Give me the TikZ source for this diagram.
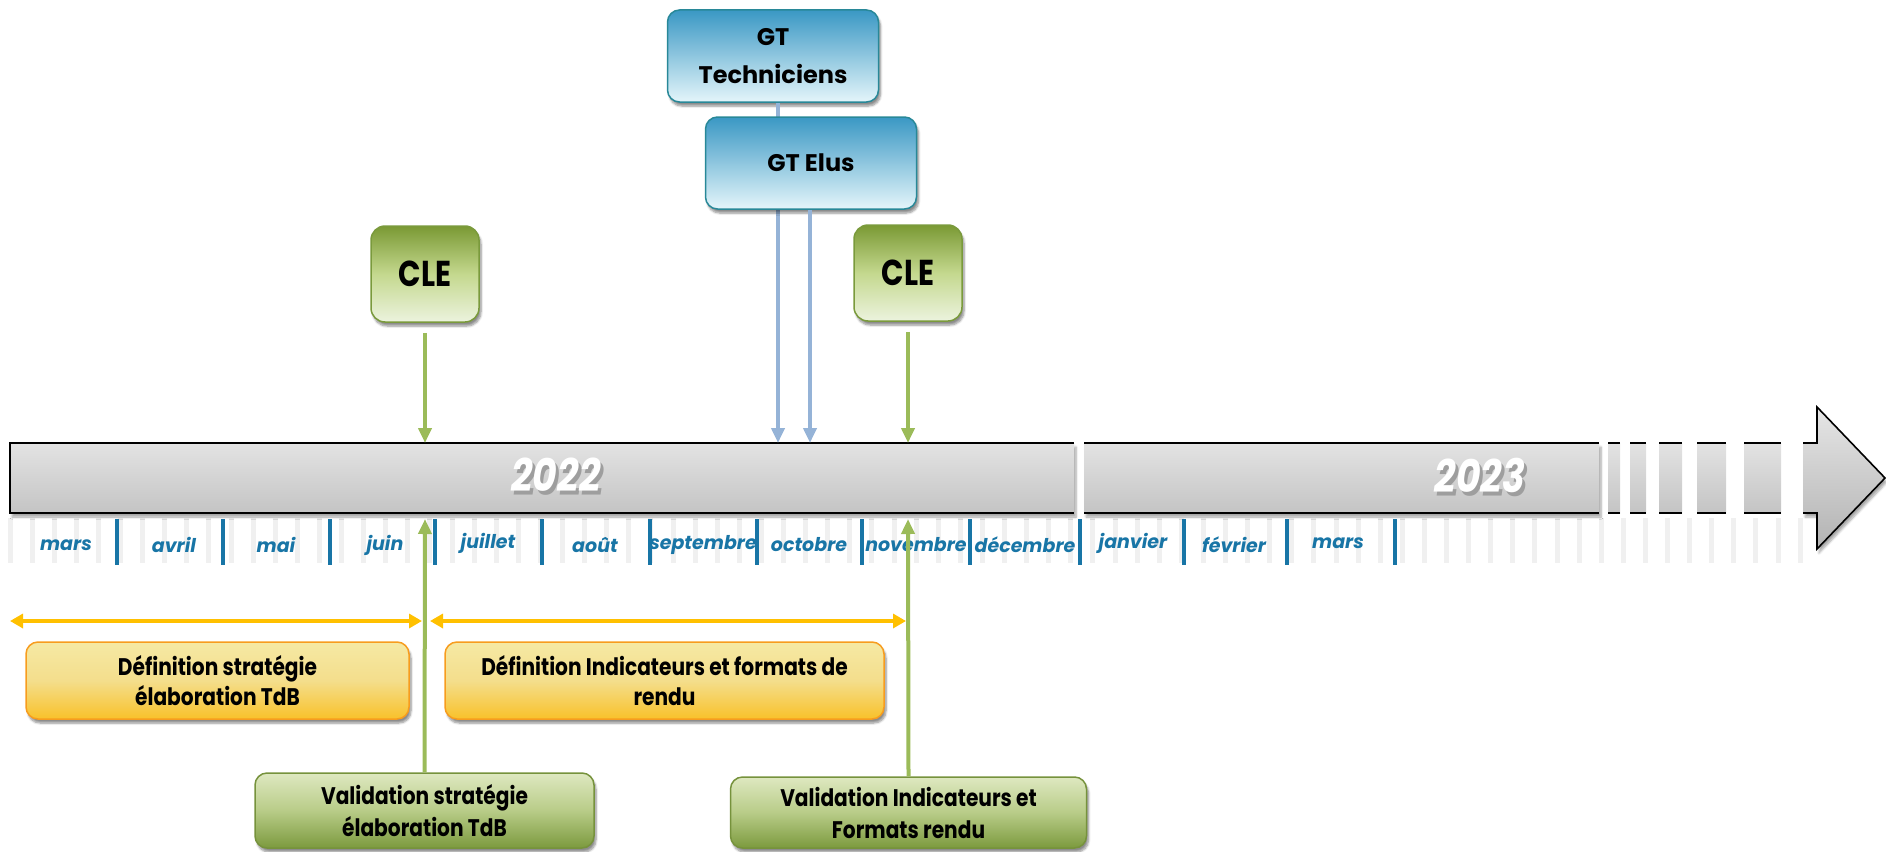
\documentclass[tikz,border=0pt]{standalone}
\usepackage{fontspec}
\setmainfont{Poppins}
\newfontfamily\condfont{Poppins}[FakeStretch=0.82]
\newfontfamily\boxfont{Poppins}[FakeStretch=0.84]
\usetikzlibrary{shadows.blur,arrows.meta}

\definecolor{monthblue}{RGB}{24,117,166}
\definecolor{stripegray}{RGB}{240,240,240}
\definecolor{gtTop}{RGB}{58,152,196}
\definecolor{gtBot}{RGB}{228,245,250}
\definecolor{gtLine}{RGB}{40,136,152}
\definecolor{cleTop}{RGB}{122,153,52}
\definecolor{cleMid}{RGB}{196,216,142}
\definecolor{cleBot}{RGB}{236,243,222}
\definecolor{cleLine}{RGB}{122,154,60}
\definecolor{defTop}{RGB}{245,233,164}
\definecolor{defMid}{RGB}{244,222,140}
\definecolor{defBot}{RGB}{249,193,42}
\definecolor{defLine}{RGB}{247,156,30}
\definecolor{valTop}{RGB}{222,232,192}
\definecolor{valMid}{RGB}{184,204,136}
\definecolor{valBot}{RGB}{124,154,62}
\definecolor{valLine}{RGB}{118,146,60}
\definecolor{conGreen}{RGB}{155,187,89}
\definecolor{conBlue}{RGB}{149,179,215}
\definecolor{conOrange}{RGB}{255,192,0}
\definecolor{barTop}{RGB}{227,227,227}
\definecolor{barBot}{RGB}{196,196,196}
\definecolor{yearShadow}{RGB}{158,158,158}

% year number with a soft offset shadow behind it
\newcommand{\shadowedyear}[1]{\rlap{\kern3pt\raisebox{-4pt}{\textcolor{yearShadow}{#1}}}#1}

\tikzset{
  boxshadow/.style={blur shadow={shadow xshift=2pt,shadow yshift=-4pt,shadow blur steps=6,shadow opacity=45}},
  basebox/.style={rounded corners=12pt,draw,line width=1.5pt,inner sep=0pt,align=center,boxshadow},
  gtbox/.style={basebox,top color=gtTop,bottom color=gtBot,draw=gtLine,
    font=\bfseries\fontsize{24}{38}\selectfont},
  clebox/.style={basebox,rounded corners=14pt,top color=cleTop,bottom color=cleBot,middle color=cleMid,draw=cleLine,
    minimum width=108pt,minimum height=96pt,font=\condfont\bfseries\fontsize{36}{40}\selectfont},
  defbox/.style={basebox,top color=defTop,bottom color=defBot,middle color=defMid,draw=defLine,
    minimum height=77pt,font=\boxfont\bfseries\fontsize{24}{30}\selectfont},
  valbox/.style={basebox,top color=valTop,bottom color=valBot,middle color=valMid,draw=valLine,
    font=\boxfont\bfseries\fontsize{24}{32}\selectfont},
  monthlabel/.style={text=monthblue,inner sep=0pt,font=\bfseries\itshape\fontsize{19}{22}\selectfont},
  yearlabel/.style={text=white,inner sep=0pt,font=\condfont\bfseries\itshape\fontsize{46}{50}\selectfont},
  greencon/.style={draw=conGreen,line width=4pt,-{Triangle[length=15pt,width=13pt]}},
  bluecon/.style={draw=conBlue,line width=4pt,-{Triangle[length=15pt,width=13pt]}},
  spanarrow/.style={draw=conOrange,line width=4pt,{Triangle[length=13pt,width=14pt]}-{Triangle[length=13pt,width=14pt]}},
  barshade/.style={top color=barTop,bottom color=barBot},
  barshadow/.style={blur shadow={shadow xshift=2pt,shadow yshift=-4pt,shadow blur steps=6,shadow opacity=35}},
  baredge/.style={draw=black,line width=1.6pt},
  separator/.style={draw=monthblue,line width=4pt},
}

\begin{document}
\begin{tikzpicture}[x=1pt,y=-1pt]
\useasboundingbox (0,0) rectangle (1886,851);

% light grid stripes under the bar
\foreach \i in {0,...,81}
  \fill[stripegray] ({10+22.1*\i-2.5},518) rectangle ({10+22.1*\i+2.5},563);

% the time bar, its cut and its dashed end
\fill[barshade,barshadow] (10,443) rectangle (1074,513);
\draw[baredge] (1074,443) -- (10,443) -- (10,513) -- (1074,513);
\fill[barshade,barshadow] (1084,443) rectangle (1599,513);
\draw[baredge] (1084,443) -- (1599,443) (1084,513) -- (1599,513);
\foreach \a/\b in {1608/1620,1630/1646,1659/1682,1697/1726,1744/1781}{
  \fill[barshade] (\a,443) rectangle (\b,513);
  \draw[baredge] (\a,443) -- (\b,443) (\a,513) -- (\b,513);
}
\shade[top color=barTop!90!white,bottom color=black!30,barshadow]
  (1803,443) -- (1817,443) -- (1817,407) -- (1885,478) -- (1817,549) -- (1817,513) -- (1803,513) -- cycle;
\draw[baredge,line join=miter] (1803,443) -- (1817,443) -- (1817,407) -- (1885,478) -- (1817,549) -- (1817,513) -- (1803,513);

% year labels
\node[yearlabel] (y22) at (556,477) {\shadowedyear{2022}};
\node[yearlabel] (y23) at (1480,477) {\shadowedyear{2023}};

% month separators
\foreach \x in {117,223,330,435,542,650,757,862,970,1080,1184,1287,1395}
  \draw[separator] (\x,519) -- (\x,565);

% month labels
\node[monthlabel] (m1) at (66,545) {mars};
\node[monthlabel] (m2) at (174,545) {avril};
\node[monthlabel] (m3) at (276,545) {mai};
\node[monthlabel] (m4) at (385,545) {juin};
\node[monthlabel] (m5) at (488,543) {juillet};
\node[monthlabel] (m6) at (595,545) {août};
\node[monthlabel] (m7) at (703,545) {septembre};
\node[monthlabel] (m8) at (809,545) {octobre};
\node[monthlabel] (m9) at (916,545) {novembre};
\node[monthlabel] (m10) at (1025,545) {décembre};
\node[monthlabel] (m11) at (1133,543) {janvier};
\node[monthlabel] (m12) at (1234,545) {février};
\node[monthlabel] (m13) at (1338,543) {mars};

% arrow end points on the bar
\coordinate (tB1) at (778,443);
\coordinate (tB2) at (810,443);
\coordinate (tG1) at (425,443);
\coordinate (tG2) at (908,443);
\coordinate (bG1) at (425,519);
\coordinate (bG2) at (908,519);

% working groups
\node[gtbox,minimum width=211pt,minimum height=92pt] (gtT) at (773,56) {GT\\Techniciens};
\draw[bluecon] ([xshift=5pt]gtT.south) -- (tB1);
\node[gtbox,minimum width=211pt,minimum height=92pt] (gtE) at (811,163) {GT Elus};
\draw[bluecon] ([xshift=-1pt]gtE.south) -- (tB2);

% CLE meetings
\node[clebox] (cle1) at (425,274) {CLE};
\node[clebox] (cle2) at (908,273) {CLE};
\draw[greencon] ([yshift=-10pt]cle1.south) -- (tG1);
\draw[greencon] ([yshift=-10pt]cle2.south) -- (tG2);

% phases
\coordinate (o1a) at (10,621);
\coordinate (o1b) at (422,621);
\coordinate (o2a) at (430,621);
\coordinate (o2b) at (906,621);
\draw[spanarrow] (o1a) -- (o1b);
\draw[spanarrow] (o2a) -- (o2b);
\node[defbox,minimum width=383pt] (def1) at (217.5,680.5) {Définition stratégie\\élaboration TdB};
\node[defbox,minimum width=439pt] (def2) at (664.5,680.5) {Définition Indicateurs et formats de\\rendu};

% validations
\node[valbox,minimum width=339pt,minimum height=75pt] (val1) at (424.5,810.5) {Validation stratégie\\élaboration TdB};
\node[valbox,minimum width=356pt,minimum height=71pt] (val2) at (908.5,812.5) {Validation Indicateurs et\\Formats rendu};
\draw[greencon] (val1.north) -- (bG1);
\draw[greencon] (val2.north) -- (bG2);
\end{tikzpicture}
\end{document}
